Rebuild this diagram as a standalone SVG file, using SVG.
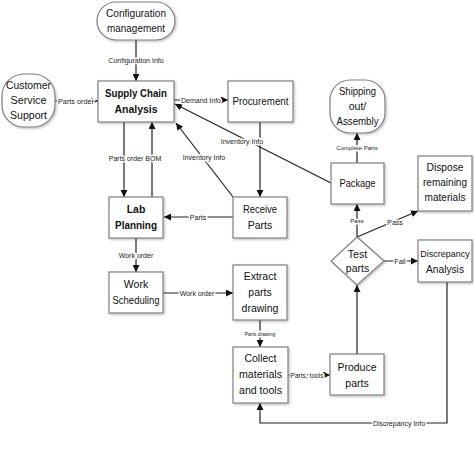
<svg xmlns="http://www.w3.org/2000/svg" width="474" height="458" viewBox="0 0 474 458">
<defs>
<marker id="ah" viewBox="0 0 10 10" refX="10" refY="5" markerWidth="7" markerHeight="7" markerUnits="userSpaceOnUse" orient="auto">
<path d="M0,0 L10,5 L0,10 z" fill="#111"/>
</marker>
<filter id="sh" x="-10%" y="-10%" width="130%" height="130%">
<feDropShadow dx="1.2" dy="1.2" stdDeviation="0.8" flood-color="#000" flood-opacity="0.25"/>
</filter>
</defs>
<style>
.box{fill:#fff;stroke:#808080;stroke-width:1.2;filter:url(#sh)}
.t{font-family:"Liberation Sans",Arial,sans-serif;font-size:10.5px;fill:#111;text-anchor:middle}
.b{font-weight:bold}
.ln{fill:none;stroke:#222;stroke-width:1.2}
.a{marker-end:url(#ah)}
.lb{font-family:"Liberation Sans",Arial,sans-serif;font-size:7px;fill:#222;text-anchor:middle;stroke:#fff;stroke-width:3px;paint-order:stroke;stroke-linejoin:round}
</style>
<rect width="474" height="458" fill="#fff"/>
<g id="connectors">
<line class="ln a" x1="136" y1="40" x2="136" y2="81"/>
<line class="ln a" x1="55" y1="101" x2="98" y2="101"/>
<line class="ln a" x1="174" y1="100" x2="228" y2="100"/>
<line class="ln a" x1="331" y1="183" x2="175" y2="104"/>
<line class="ln a" x1="233" y1="197" x2="176" y2="123"/>
<line class="ln a" x1="260" y1="122" x2="260" y2="197"/>
<line class="ln a" x1="124" y1="122" x2="124" y2="197"/>
<line class="ln a" x1="152" y1="197" x2="152" y2="122"/>
<line class="ln a" x1="233" y1="217" x2="164" y2="217"/>
<line class="ln a" x1="136" y1="238" x2="136" y2="272"/>
<line class="ln a" x1="163" y1="293" x2="233" y2="293"/>
<line class="ln a" x1="260" y1="320" x2="260" y2="347"/>
<line class="ln a" x1="288" y1="375" x2="330" y2="375"/>
<line class="ln a" x1="357" y1="354" x2="357" y2="285"/>
<line class="ln a" x1="357" y1="237" x2="357" y2="204"/>
<line class="ln a" x1="357" y1="237" x2="418" y2="211"/>
<line class="ln a" x1="384" y1="261" x2="418" y2="261"/>
<line class="ln a" x1="357" y1="163" x2="357" y2="133"/>
<polyline class="ln a" points="447,282 447,423 260,423 260,403"/>
<text class="lb" x="136" y="63">Configuration Info</text>
<text class="lb" x="76" y="103.5" textLength="36" lengthAdjust="spacingAndGlyphs">Parts order</text>
<text class="lb" x="201" y="103" textLength="40" lengthAdjust="spacingAndGlyphs">Demand Info</text>
<text class="lb" x="242" y="144">Inventory Info</text>
<text class="lb" x="204" y="160">Inventory Info</text>
<text class="lb" x="135" y="161">Parts order BOM</text>
<text class="lb" x="198" y="220">Parts</text>
<text class="lb" x="136" y="258">Work order</text>
<text class="lb" x="197" y="296">Work order</text>
<text class="lb" x="260" y="336" style="font-size:5px">Parts drawing</text>
<text class="lb" x="307" y="377.5" textLength="33" lengthAdjust="spacingAndGlyphs">Parts, tools</text>
<text class="lb" x="357" y="223" style="font-size:6px">Pass</text>
<text class="lb" x="395" y="225">Pass</text>
<text class="lb" x="400" y="263.5">Fail</text>
<text class="lb" x="357" y="150" style="font-size:6px">Complete Parts</text>
<text class="lb" x="399" y="426">Discrepancy Info</text>
</g>
<g id="config">
<rect class="box" x="97" y="2" width="78" height="38" rx="19"/>
<text class="t" x="136" y="17" textLength="60" lengthAdjust="spacingAndGlyphs">Configuration</text>
<text class="t" x="136" y="32" textLength="58" lengthAdjust="spacingAndGlyphs">management</text>
</g>
<g id="customer">
<rect class="box" x="2" y="74" width="53" height="53" rx="22"/>
<text class="t" x="28.5" y="89" textLength="45" lengthAdjust="spacingAndGlyphs">Customer</text>
<text class="t" x="28.5" y="104" textLength="36" lengthAdjust="spacingAndGlyphs">Service</text>
<text class="t" x="28.5" y="119" textLength="37" lengthAdjust="spacingAndGlyphs">Support</text>
</g>
<g id="sca">
<rect class="box" x="98" y="81" width="76" height="41"/>
<text class="t b" x="136" y="97" textLength="62" lengthAdjust="spacingAndGlyphs">Supply Chain</text>
<text class="t b" x="136" y="113">Analysis</text>
</g>
<g id="procurement">
<rect class="box" x="228" y="81" width="65" height="41"/>
<text class="t" x="260.5" y="105" textLength="56" lengthAdjust="spacingAndGlyphs">Procurement</text>
</g>
<g id="shipping">
<rect class="box" x="330" y="80" width="55" height="53" rx="20"/>
<text class="t" x="357.5" y="95" textLength="37" lengthAdjust="spacingAndGlyphs">Shipping</text>
<text class="t" x="357.5" y="110">out/</text>
<text class="t" x="357.5" y="125" textLength="42" lengthAdjust="spacingAndGlyphs">Assembly</text>
</g>
<g id="package">
<rect class="box" x="331" y="163" width="53" height="41"/>
<text class="t" x="357.5" y="187" textLength="36" lengthAdjust="spacingAndGlyphs">Package</text>
</g>
<g id="dispose">
<rect class="box" x="418" y="156" width="54" height="55"/>
<text class="t" x="445" y="171" textLength="37" lengthAdjust="spacingAndGlyphs">Dispose</text>
<text class="t" x="445" y="186" textLength="44" lengthAdjust="spacingAndGlyphs">remaining</text>
<text class="t" x="445" y="201" textLength="41" lengthAdjust="spacingAndGlyphs">materials</text>
</g>
<g id="lab">
<rect class="box" x="109" y="197" width="54" height="41"/>
<text class="t b" x="136" y="213">Lab</text>
<text class="t b" x="136" y="229" textLength="42" lengthAdjust="spacingAndGlyphs">Planning</text>
</g>
<g id="receive">
<rect class="box" x="233" y="197" width="54" height="41"/>
<text class="t" x="260" y="213" textLength="34" lengthAdjust="spacingAndGlyphs">Receive</text>
<text class="t" x="260" y="229">Parts</text>
</g>
<g id="test">
<polygon class="box" points="357,237 384,261 357,285 331,261"/>
<text class="t" x="357.5" y="258">Test</text>
<text class="t" x="357.5" y="272">parts</text>
</g>
<g id="discrepancy">
<rect class="box" x="418" y="240" width="54" height="42"/>
<text class="t" x="445" y="257" style="font-size:9px">Discrepancy</text>
<text class="t" x="445" y="273" textLength="38" lengthAdjust="spacingAndGlyphs">Analysis</text>
</g>
<g id="workscheduling">
<rect class="box" x="109" y="272" width="54" height="41"/>
<text class="t" x="136" y="288">Work</text>
<text class="t" x="136" y="304" textLength="47" lengthAdjust="spacingAndGlyphs">Scheduling</text>
</g>
<g id="extract">
<rect class="box" x="233" y="265" width="54" height="55"/>
<text class="t" x="260" y="280">Extract</text>
<text class="t" x="260" y="296">parts</text>
<text class="t" x="260" y="312">drawing</text>
</g>
<g id="collect">
<rect class="box" x="233" y="347" width="55" height="56"/>
<text class="t" x="260.5" y="362">Collect</text>
<text class="t" x="260.5" y="378" textLength="43" lengthAdjust="spacingAndGlyphs">materials</text>
<text class="t" x="260.5" y="394" textLength="43" lengthAdjust="spacingAndGlyphs">and tools</text>
</g>
<g id="produce">
<rect class="box" x="330" y="354" width="54" height="41"/>
<text class="t" x="357" y="371">Produce</text>
<text class="t" x="357" y="387">parts</text>
</g>
</svg>
